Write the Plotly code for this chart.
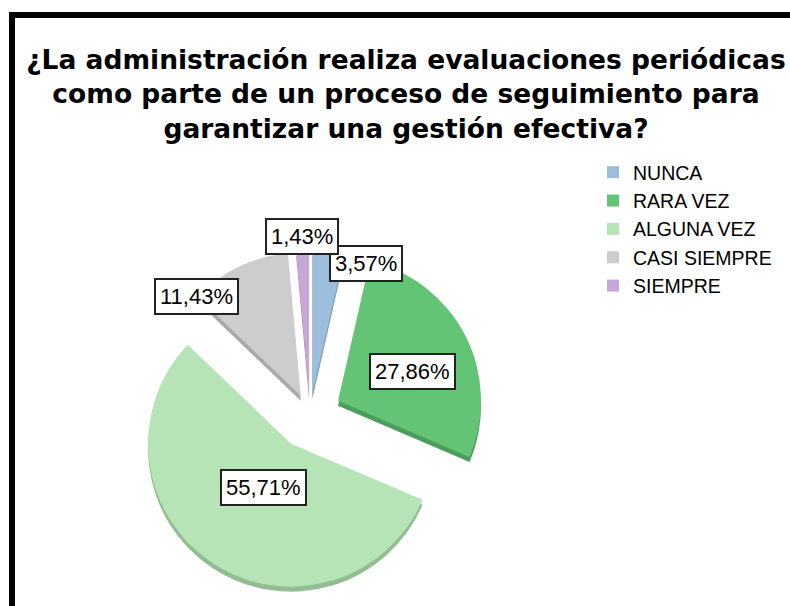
import math
import plotly.graph_objects as go

# ---- data ----
categories = ["NUNCA", "RARA VEZ", "ALGUNA VEZ", "CASI SIEMPRE", "SIEMPRE"]
counts = [5, 39, 78, 16, 2]
title_text = ("¿La administración realiza evaluaciones periódicas<br>"
              "como parte de un proceso de seguimiento para<br>"
              "garantizar una gestión efectiva?")

# ---- style ----
W, H = 790, 606
slice_colors = ["#9cbedc", "#64c476", "#b6e4b6", "#cdcdcd", "#c7a6da"]
shadow_colors = ["#7c9cb8", "#4c9e5c", "#93bc93", "#a9a9a9", "#a688b6"]
pulls = [0.15, 0.22, 0.24, 0.15, 0.15]
label_radius = [1.13, 0.78, 0.60, 1.15, 1.25]
label_nudge_deg = [14, 4, -1, -18, 0]
pie_cx, pie_cy, pie_r = 310, 415, 143
shadow_drop = 5
label_font = "Liberation Sans, Arial, sans-serif"

half = pie_r * (1 + max(pulls))
dom_x = [(pie_cx - half) / W, (pie_cx + half) / W]
dom_y = [1 - (pie_cy + half) / H, 1 - (pie_cy - half) / H]
dom_y_sh = [dom_y[0] - shadow_drop / H, dom_y[1] - shadow_drop / H]

fig = go.Figure()
fig.add_trace(go.Pie(
    labels=categories, values=counts, sort=False, direction="clockwise",
    rotation=0, pull=pulls, marker=dict(colors=shadow_colors, line=dict(width=0)),
    textinfo="none", hoverinfo="skip", showlegend=False,
    domain=dict(x=dom_x, y=dom_y_sh),
))
fig.add_trace(go.Pie(
    labels=categories, values=counts, sort=False, direction="clockwise",
    rotation=0, pull=pulls, marker=dict(colors=slice_colors, line=dict(width=0)),
    textinfo="none", showlegend=True,
    domain=dict(x=dom_x, y=dom_y),
))

# percentage labels in boxes, placed from the slice angles
total = sum(counts)
cum = 0
for i, c in enumerate(counts):
    mid = (cum + c / 2) / total * 360.0
    cum += c
    a = math.radians(mid + label_nudge_deg[i])
    px = pie_cx + label_radius[i] * pie_r * math.sin(a)
    py = pie_cy - label_radius[i] * pie_r * math.cos(a)
    pct = f"{c / total * 100:.2f}".replace(".", ",") + "%"
    fig.add_annotation(
        x=px / W, y=1 - py / H, xref="paper", yref="paper", text=pct,
        xanchor="center", yanchor="middle",
        showarrow=False, font=dict(family=label_font, size=22, color="#000"),
        bgcolor="white", bordercolor="#222", borderwidth=2, borderpad=4,
    )

# black frame (top and left edges of the original screenshot)
fig.add_shape(type="rect", xref="paper", yref="paper", x0=9 / W, x1=1.0,
              y0=1 - 18 / H, y1=1 - 12 / H, fillcolor="black", line_width=0)
fig.add_shape(type="rect", xref="paper", yref="paper", x0=9 / W, x1=15 / W,
              y0=0, y1=1 - 12 / H, fillcolor="black", line_width=0)

fig.update_layout(
    width=W, height=H, autosize=False,
    margin=dict(l=0, r=0, t=0, b=0),
    paper_bgcolor="white", plot_bgcolor="white",
    title=dict(text=title_text, x=406 / W, xanchor="center", xref="paper",
               y=1 - 69 / H, yanchor="top", yref="container",
               font=dict(family="DejaVu Sans", size=26.5, color="#000", weight="bold")),
    legend=dict(x=593 / W, y=1 - 153 / H, xanchor="left", yanchor="top",
                font=dict(family=label_font, size=19.5, color="#000"),
                bgcolor="rgba(0,0,0,0)", traceorder="normal"),
)

fig.write_html("out.html",
               config={"displayModeBar": False},
               post_script="document.body.style.margin='0';document.body.style.overflow='hidden';")
